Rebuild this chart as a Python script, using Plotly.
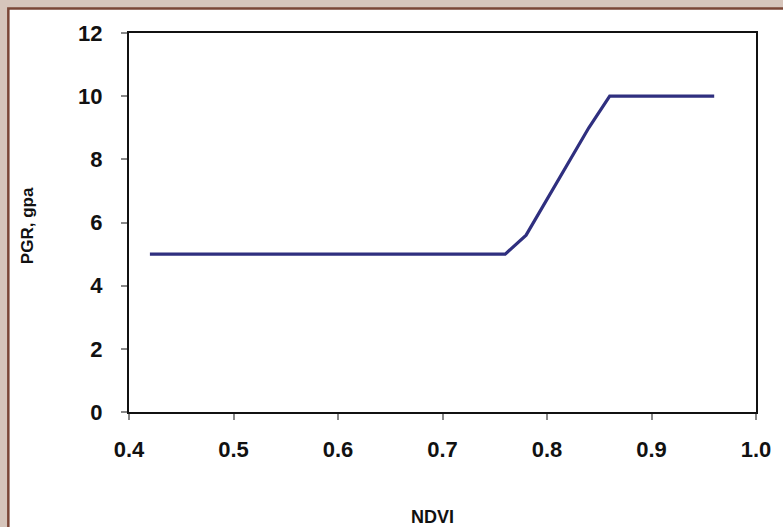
import plotly.graph_objects as go

ndvi = [0.42, 0.76, 0.78, 0.84, 0.86, 0.96]
pgr = [5.0, 5.0, 5.6, 9.0, 10.0, 10.0]
x_ticks = [0.4, 0.5, 0.6, 0.7, 0.8, 0.9, 1.0]
x_tick_labels = ["0.4", "0.5", "0.6", "0.7", "0.8", "0.9", "1.0"]
y_ticks = [0, 2, 4, 6, 8, 10, 12]

W, H = 783, 527
L, R, T, B = 129, 20, 33, 115
pw, ph = W - L - R, H - T - B

def px(xp):
    return (xp - L) / pw

def py(yp):
    return (H - B - yp) / ph

fig = go.Figure()
fig.add_trace(go.Scatter(x=ndvi, y=pgr, mode="lines",
                         line=dict(color="#2f2f7f", width=3.2),
                         showlegend=False, hoverinfo="x+y"))

font_main = "Liberation Sans, Arial, sans-serif"
fig.update_layout(
    width=W, height=H,
    margin=dict(l=L, r=R, t=T, b=B, pad=0),
    paper_bgcolor="#d6c5bb",
    plot_bgcolor="white",
    font=dict(family=font_main, color="#111111"),
    shapes=[
        dict(type="rect", xref="paper", yref="paper", layer="below",
             x0=px(7), x1=px(800), y0=py(560), y1=py(8.5),
             fillcolor="white", line=dict(color="#7a4636", width=2.5)),
    ],
    annotations=[
        dict(text="<b>PGR, gpa</b>", xref="paper", yref="paper",
             x=px(26), y=py(226), xanchor="center", yanchor="middle",
             showarrow=False, textangle=-90,
             font=dict(size=17, family=font_main, color="#111111")),
        dict(text="<b>NDVI</b>", xref="paper", yref="paper",
             x=px(436), y=py(517), xanchor="center", yanchor="middle",
             showarrow=False,
             font=dict(size=18, family=font_main, color="#111111")),
    ],
)
fig.update_xaxes(range=[0.4, 1.0], tickvals=x_ticks, ticktext=x_tick_labels,
                 ticks="outside", ticklen=6, tickwidth=1.5, tickcolor="#888888",
                 showline=True, linecolor="#111111", linewidth=2.2, mirror=True,
                 showgrid=False, zeroline=False, ticklabelstandoff=10,
                 tickfont=dict(size=22, family=font_main, color="#111111", weight="bold"))
fig.update_yaxes(range=[0, 12], tickvals=y_ticks,
                 ticks="outside", ticklen=6, tickwidth=1.5, tickcolor="#888888",
                 showline=True, linecolor="#111111", linewidth=2.2, mirror=True,
                 showgrid=False, zeroline=False, ticklabelstandoff=14,
                 tickfont=dict(size=22, family=font_main, color="#111111", weight="bold"))

fig.write_html("out.html", config={"displayModeBar": False},
               post_script="document.body.style.margin='0';document.body.style.padding='0';")
